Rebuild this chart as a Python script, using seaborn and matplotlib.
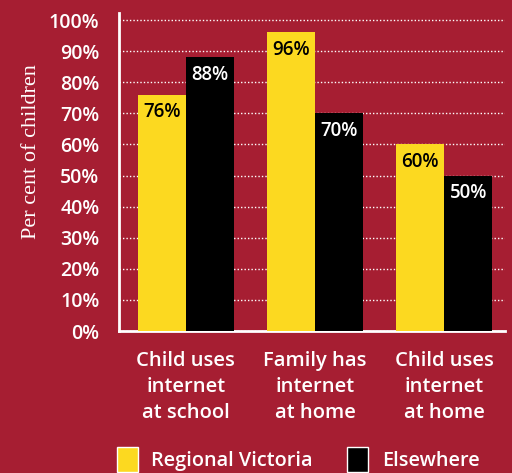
import pandas as pd
import matplotlib.pyplot as plt
import seaborn as sns
from matplotlib.patches import Patch

categories = ["Child uses\ninternet\nat school", "Family has\ninternet\nat home", "Child uses\ninternet\nat home"]
regional = [76, 96, 60]
elsewhere = [88, 70, 50]
groups = ["Regional Victoria", "Elsewhere"]

bg = "#A61E32"
yellow = "#FCD920"

df = pd.DataFrame({
    "cat": categories * 2,
    "val": regional + elsewhere,
    "grp": [groups[0]] * 3 + [groups[1]] * 3,
})

sns.set_style("white")
plt.rcParams["font.family"] = ["Open Sans", "DejaVu Sans"]

fig = plt.figure(figsize=(5.12, 4.73), dpi=100, facecolor=bg)
ax = fig.add_axes([0.232, 0.300, 0.754, 0.6725])
ax.set_facecolor(bg)

sns.barplot(data=df, x="cat", y="val", hue="grp", palette=[yellow, "black"],
            width=0.744, saturation=1, ax=ax, legend=False, linewidth=0, zorder=3)

for i, cont in enumerate(ax.containers):
    ax.bar_label(cont, labels=[f"{int(v)}%" for v in cont.datavalues],
                 padding=-20, color="black" if i == 0 else "white",
                 fontsize=13.5, fontweight="semibold")

ax.set_ylim(0, 102.25)
ax.set_xlim(-0.52, 2.47)
ax.set_yticks(range(0, 101, 10))
ax.set_yticklabels([f"{v}%" for v in range(0, 101, 10)], color="white",
                   fontsize=14, fontweight="semibold")
ax.set_xticks(range(3))
ax.set_xticklabels(categories, color="white", fontsize=14.5,
                   fontweight="semibold", linespacing=1.4)
ax.tick_params(axis="y", length=0, pad=14)
ax.tick_params(axis="x", length=0, pad=14)
ax.yaxis.grid(True, color="white", linestyle=(0, (1, 1.5)), linewidth=1, zorder=0)
ax.set_axisbelow(True)
ax.set_xlabel("")
ax.set_ylabel("Per cent of children", color="white", fontsize=16,
              family=["Liberation Serif"])
ax.yaxis.set_label_coords(-0.202, 0.563)
for s in ["top", "right"]:
    ax.spines[s].set_visible(False)
for s in ["left", "bottom"]:
    ax.spines[s].set_color("white")
    ax.spines[s].set_linewidth(2)

handles = [Patch(facecolor=yellow, label=groups[0]), Patch(facecolor="black", label=groups[1])]
fig.legend(handles=handles, loc="lower left", bbox_to_anchor=(0.193, -0.035), ncol=2,
           frameon=False, labelcolor="white", prop={"size": 14.3, "weight": "semibold"},
           handlelength=1.06, handleheight=1.5, columnspacing=1.75, handletextpad=0.67)

fig.savefig("out.png", dpi=100, facecolor=bg)
